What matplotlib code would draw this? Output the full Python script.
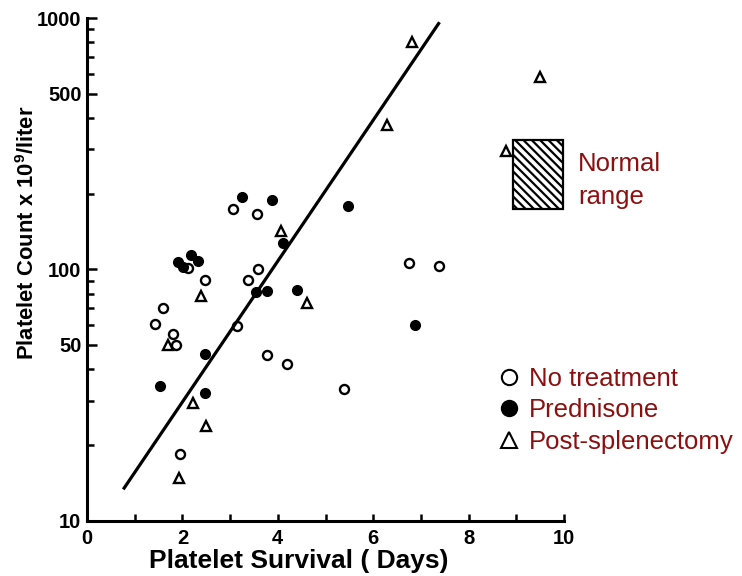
import numpy as np
import matplotlib
matplotlib.use("Agg")
import matplotlib.pyplot as plt
from matplotlib.lines import Line2D
from matplotlib.patches import Rectangle
from matplotlib.ticker import FixedLocator, NullFormatter, FixedFormatter

# platelet survival (days) vs platelet count (x10^9/liter)
none_x = [1.43, 1.60, 1.81, 1.87, 2.12, 2.47, 3.07, 3.14, 3.38, 3.56, 3.59, 3.77, 4.20, 5.39, 6.76, 7.37, 1.94]
none_y = [60.8, 69.8, 55.0, 49.9, 100.9, 90.4, 173, 59.3, 90.4, 166, 100, 45.5, 41.9, 33.5, 106, 103, 18.4]

pred_x = [1.90, 2.01, 2.19, 2.33, 3.24, 3.88, 4.10, 3.54, 3.77, 4.41, 5.48, 6.88, 2.47, 1.53, 2.47]
pred_y = [106.6, 101.8, 113.7, 107.6, 194, 189, 127, 81.2, 82.0, 82.5, 178.6, 59.9, 46.2, 34.3, 32.2]

splen_x = [1.70, 2.40, 4.07, 4.61, 2.22, 2.49, 1.93, 6.81, 6.28, 9.50, 8.78]
splen_y = [49.9, 78.1, 142, 73.5, 29.4, 23.8, 14.7, 801, 374, 585, 295]

# fitted line end points
fit_x = [0.76, 7.39]
fit_y = [13.3, 962]

# normal range box
normal_x = [8.94, 9.985]
normal_y = [173, 326]

yticks_major = [10, 50, 100, 500, 1000]
yticks_minor = [20, 30, 40, 60, 70, 80, 90, 200, 300, 400, 600, 700, 800, 900]
xticks_major = [0, 2, 4, 6, 8, 10]
xticks_minor = [1, 3, 5, 7, 9]

red = "#8c1010"
plt.rcParams["font.family"] = "Liberation Sans"
plt.rcParams["mathtext.fontset"] = "custom"
plt.rcParams["mathtext.bf"] = "Liberation Sans:bold"
plt.rcParams["mathtext.rm"] = "Liberation Sans:bold"
plt.rcParams["hatch.linewidth"] = 1.6

fig = plt.figure(figsize=(7.42, 5.76), dpi=100)
ax = fig.add_axes([87 / 742, 1 - 520.5 / 576, (564 - 87) / 742, (520.5 - 18) / 576])

ax.set_yscale("log")
ax.set_xlim(0, 10)
ax.set_ylim(10, 1000)

mk = dict(linestyle="none", color="black", clip_on=False)
ax.plot(none_x, none_y, marker="o", ms=6.5, mfc="white", mew=1.7, **mk)
ax.plot(pred_x, pred_y, marker="o", ms=7, mfc="black", mew=1, **mk)
ax.plot(splen_x, splen_y, marker="^", ms=7.5, mfc="white", mew=1.7, **mk)
ax.plot(fit_x, fit_y, color="black", lw=2.3, solid_capstyle="butt")

ax.add_patch(Rectangle((normal_x[0], normal_y[0]), normal_x[1] - normal_x[0],
                       normal_y[1] - normal_y[0], facecolor="white", edgecolor="black",
                       hatch="\\\\\\\\", lw=1.6, clip_on=False))
ax.text(10.29, 226, "Normal\nrange", color=red, fontsize=18.5, ha="left", va="center",
        linespacing=1.45)

for s in ["top", "right"]:
    ax.spines[s].set_visible(False)
for s in ["left", "bottom"]:
    ax.spines[s].set_linewidth(2.2)

ax.yaxis.set_major_locator(FixedLocator(yticks_major))
ax.yaxis.set_major_formatter(FixedFormatter([str(v) for v in yticks_major]))
ax.yaxis.set_minor_locator(FixedLocator(yticks_minor))
ax.yaxis.set_minor_formatter(NullFormatter())
ax.xaxis.set_major_locator(FixedLocator(xticks_major))
ax.xaxis.set_minor_locator(FixedLocator(xticks_minor))

ax.tick_params(which="major", direction="in", width=1.8, labelsize=14.5)
ax.tick_params(axis="y", which="major", length=7, pad=4)
ax.tick_params(axis="x", which="major", length=5, pad=6)
ax.tick_params(which="minor", direction="in", width=1.8, length=5)
for lab in ax.get_xticklabels() + ax.get_yticklabels():
    lab.set_fontweight("bold")

fig.text(299 / 742, 1 - 561 / 576, "Platelet Survival ( Days)", fontsize=19,
         fontweight="bold", ha="center", va="center")
fig.text(28 / 742, 1 - 232.5 / 576, r"Platelet Count x 10$^{\mathbf{9}}$/liter", fontsize=15.8,
         fontweight="bold", ha="center", va="center", rotation=90)

handles = [
    Line2D([], [], marker="o", ls="none", ms=11, mfc="white", mec="black", mew=1.5),
    Line2D([], [], marker="o", ls="none", ms=11, mfc="black", mec="black", mew=1.5),
    Line2D([], [], marker="^", ls="none", ms=11, mfc="white", mec="black", mew=1.5),
]
labels = ["No treatment", "Prednisone", "Post-splenectomy"]
fig.legend(handles, labels, loc="upper left", bbox_to_anchor=(498.7 / 742, 1 - 367 / 576),
           frameon=False, fontsize=18.5, labelcolor=red, handlelength=0.8,
           handletextpad=0.38, labelspacing=0.29, borderpad=0, borderaxespad=0)

fig.savefig("out.png", dpi=100)
